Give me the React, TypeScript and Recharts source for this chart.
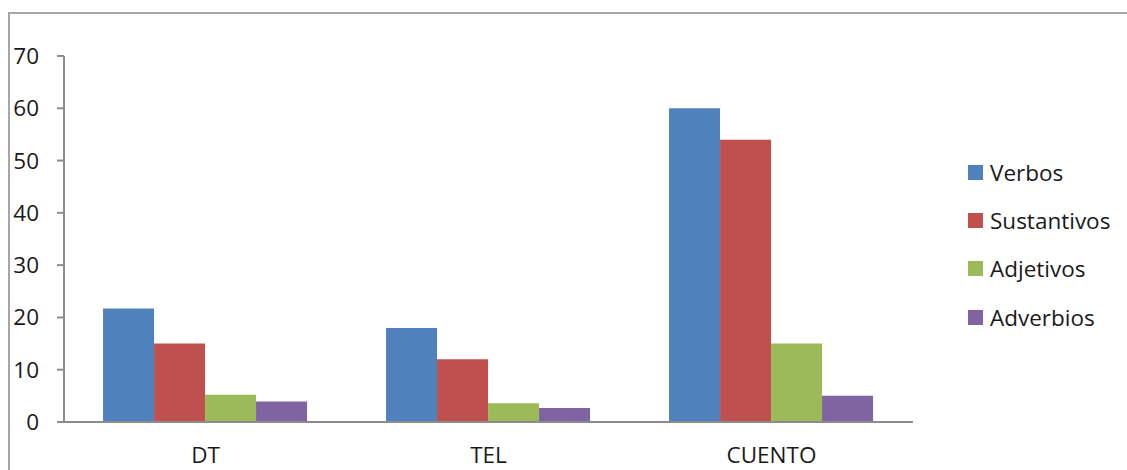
import { Bar, BarChart, XAxis, YAxis } from "recharts";

const categories = ["DT", "TEL", "CUENTO"];
const verbos = [21.7, 18, 60];
const sustantivos = [15, 12, 54];
const adjetivos = [5.2, 3.6, 15];
const adverbios = [3.9, 2.7, 5];
const yTicks = [0, 10, 20, 30, 40, 50, 60, 70];
const boundaryTicks = [0, 1, 2, 3];

const series = [
  { key: "verbos", name: "Verbos", color: "#4F81BD" },
  { key: "sustantivos", name: "Sustantivos", color: "#C0504D" },
  { key: "adjetivos", name: "Adjetivos", color: "#9BBB59" },
  { key: "adverbios", name: "Adverbios", color: "#8064A2" },
];

const data = categories.map((name, i) => ({
  name,
  verbos: verbos[i],
  sustantivos: sustantivos[i],
  adjetivos: adjetivos[i],
  adverbios: adverbios[i],
}));

const FONT = "'Open Sans', sans-serif";
const AXIS = "#8C8C8C";

function LegendList() {
  return (
    <div style={{ fontFamily: FONT, fontSize: 22.5, color: "#1a1a1a" }}>
      {series.map((s) => (
        <div key={s.key} style={{ height: 48.3, display: "flex", alignItems: "center" }}>
          <span style={{ width: 15, height: 15, background: s.color, marginRight: 7, display: "inline-block" }} />
          <span>{s.name}</span>
        </div>
      ))}
    </div>
  );
}

export default function App() {
  return (
    <div style={{ position: "absolute", left: 0, top: 0, width: 1127, height: 470, overflow: "hidden", background: "#fff" }}>
      <div
        style={{
          position: "absolute",
          left: 8,
          top: 12,
          width: 1140,
          height: 480,
          border: "2px solid #A6A6A6",
          boxSizing: "border-box",
        }}
      />
      <div style={{ position: "absolute", left: 0, top: 0 }}>
        <BarChart
          width={1127}
          height={470}
          data={data}
          margin={{ top: 56, right: 214, bottom: 0, left: 0 }}
          barCategoryGap="13.8%"
          barGap={0}
        >
          <XAxis
            xAxisId="a"
            type="number"
            domain={[0, 3]}
            ticks={boundaryTicks}
            height={1}
            tick={false}
            tickSize={8}
            axisLine={{ stroke: AXIS, strokeWidth: 2 }}
            tickLine={{ stroke: AXIS, strokeWidth: 2 }}
          />
          <XAxis
            xAxisId="b"
            dataKey="name"
            height={47}
            axisLine={false}
            tickLine={false}
            tickSize={8}
            tickMargin={16}
            tick={{ fill: "#1a1a1a", fontSize: 22.5, fontFamily: FONT }}
          />
          <YAxis
            domain={[0, 70]}
            ticks={yTicks}
            interval={0}
            width={64}
            tickSize={7}
            tickMargin={18}
            axisLine={{ stroke: AXIS, strokeWidth: 2 }}
            tickLine={{ stroke: AXIS, strokeWidth: 2 }}
            tick={{ fill: "#1a1a1a", fontSize: 22.5, fontFamily: FONT }}
          />
          {series.map((s) => (
            <Bar
              key={s.key}
              xAxisId="b"
              dataKey={s.key}
              name={s.name}
              fill={s.color}
              isAnimationActive={false}
            />
          ))}
        </BarChart>
      </div>
      <div style={{ position: "absolute", left: 968, top: 148, width: 159 }}>
        <LegendList />
      </div>
    </div>
  );
}
